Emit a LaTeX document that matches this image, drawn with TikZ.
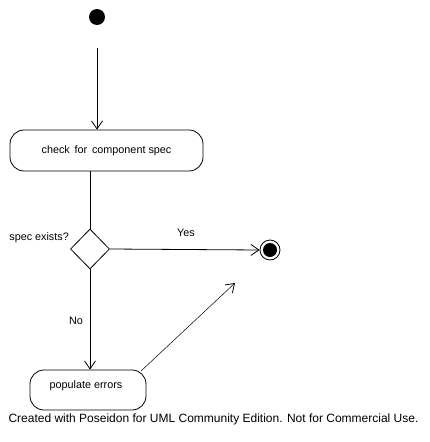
\documentclass[tikz,border=0pt]{standalone}
\usepackage{fontspec}
\setmainfont{Liberation Sans}
\usetikzlibrary{arrows.meta,shapes.geometric}
\begin{document}
\begin{tikzpicture}[x=1pt,y=-1pt,
  every node/.style={font=\fontsize{10.8}{12}\selectfont},
  conn/.style={line width=0.8pt,-{Straight Barb[length=8pt,width=11pt,line width=0.8pt]}},
  actbox/.style={draw,line width=0.8pt,rounded corners=14pt,inner sep=0pt,align=center},
  decision/.style={draw,diamond,line width=0.8pt,inner sep=0pt,minimum width=39pt,minimum height=40pt},
  lbl/.style={inner sep=0pt}]
\useasboundingbox (0,0) rectangle (429,442);
\fill[white] (0,0) rectangle (429,442);
% nodes
\node[circle,fill=black,inner sep=0pt,minimum size=16pt] (start) at (97,17) {};
\node[actbox,minimum width=193pt,minimum height=41pt] (check) at (106.5,150.5) {check\, for\, component spec};
\node[decision] (dec) at (90,249) {};
\node[circle,draw,line width=0.8pt,inner sep=0pt,minimum size=20pt] (final) at (270,250) {};
\node[circle,fill=black,inner sep=0pt,minimum size=14pt] at (final.center) {};
\node[actbox,minimum width=116pt,minimum height=40pt] (pop) at (88,390) {};
\node[lbl] at (86,386) {populate errors};
\coordinate (dangle) at (235,283);
% labels
\node[lbl,anchor=east] (qlbl) at (69,238) {spec exists?};
\node[lbl] (yes) at (186,233) {Yes};
\node[lbl] (no) at (76,321) {No};
\node[lbl,font=\fontsize{12}{13}\selectfont] (footer) at (213.5,419) {Created with Poseidon for UML Community Edition. Not for Commercial Use.};
% connectors
\draw[conn] (start.south |- 0,48) -- (check.north -| start.south);
\draw[line width=0.8pt] (check.south -| dec.north) -- (dec.north);
\draw[conn] (dec.east) -- (final.west);
\draw[conn] (dec.south) -- (pop.north -| dec.south);
\draw[conn,line width=0.5pt] (141,371) -- (dangle);
\end{tikzpicture}
\end{document}
